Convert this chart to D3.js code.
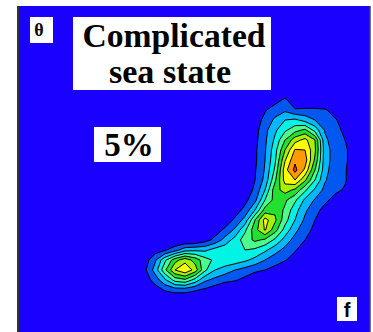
<!DOCTYPE html>
<html><head><meta charset="utf-8">
<script src="https://cdn.jsdelivr.net/npm/d3@7"></script>
<style>html,body{margin:0;padding:0;background:#fff;overflow:hidden}</style>
</head><body>
<svg id="c" width="373" height="332"></svg>
<script>
// Grid of spectral energy (level units), rows = direction (top to bottom), cols = frequency
const gridCols = 24, gridRows = 22;
const density = [
[0,0,0,0,0,0,0,0,0,0,0,0,0,0,0,0,0,0,0,0,0,0,0,0],
[0,0,0,0,0,0,0,0,0,0,0,0,0,0,0.6,1.2,0.3,0,0,0,0,0,0,0],
[0,0,0,0,0,0,0,0,0,0,0,0,0,0.9,1.5,1.8,1.1,1.2,1.2,1.1,0.6,0,0,0],
[0,0,0,0,0,0,0,0,0,0,0,0,0.5,1.3,2.2,3.0,3.2,2.6,2.0,1.5,1.1,0.6,0,0],
[0,0,0,0,0,0,0,0,0,0,0,0,0.6,1.7,2.8,3.8,4.6,5.2,3.6,1.9,1.3,0.8,0,0],
[0,0,0,0,0,0,0,0,0,0,0,0,0.7,1.8,3.2,5.0,6.6,7.3,6.0,2.2,1.5,1.0,0.3,0],
[0,0,0,0,0,0,0,0,0,0,0,0,0.8,1.9,3.6,6.0,8.1,8.0,6.2,2.4,1.6,1.2,0.4,0],
[0,0,0,0,0,0,0,0,0,0,0,0,0.8,2.0,3.8,6.9,8.8,8.5,5.8,2.4,1.6,1.2,0.4,0],
[0,0,0,0,0,0,0,0,0,0,0,0,0.9,2.1,4.2,7.6,9.3,7.8,5.0,2.3,1.5,1.1,0.3,0],
[0,0,0,0,0,0,0,0,0,0,0,0,1.0,2.3,4.8,7.4,8.0,6.2,4.0,2.1,1.4,1.1,0.3,0],
[0,0,0,0,0,0,0,0,0,0,0,0.4,1.2,3.0,5.6,6.4,5.8,4.2,2.8,1.7,1.2,0.9,0.2,0],
[0,0,0,0,0,0,0,0,0,0,0,0.7,1.7,4.0,5.4,5.2,4.2,2.8,1.9,1.2,0.7,0,0,0],
[0,0,0,0,0,0,0,0,0,0,0.5,1.3,3.0,5.4,5.8,4.8,3.4,2.2,1.3,0.7,0,0,0,0],
[0,0,0,0,0,0,0,0,0,0.4,1.2,2.4,5.0,7.4,6.2,4.4,3.0,1.8,1.0,0.4,0,0,0,0],
[0,0,0,0,0,0,0,0,0.5,1.2,2.2,3.8,5.6,7.1,5.4,3.6,2.3,1.3,0.8,0,0,0,0,0],
[0,0,0,0,0,0,0,0.6,1.3,2.4,3.4,4.5,5.2,4.8,3.8,2.6,1.6,1.0,0.4,0,0,0,0,0],
[0,0,0.5,0.9,1.6,2.6,2.8,2.8,3.4,3.6,3.8,4.0,3.8,3.2,2.4,1.7,1.1,0.4,0,0,0,0,0,0],
[0,0.5,1.8,3.8,5.6,6.6,5.6,4.4,3.8,3.8,3.6,3.2,2.7,2.0,1.4,1.1,0.5,0,0,0,0,0,0,0],
[0,0.8,2.4,4.8,7.0,7.9,6.6,4.2,3.0,2.5,2.0,1.6,1.2,1.0,0.7,0,0,0,0,0,0,0,0,0],
[0,0.5,1.4,2.8,4.4,4.8,3.6,2.2,1.7,1.3,1.1,0.7,0.3,0,0,0,0,0,0,0,0,0,0,0],
[0,0,0.5,1.1,1.4,1.4,1.1,0.8,0.4,0,0,0,0,0,0,0,0,0,0,0,0,0,0,0],
[0,0,0,0,0,0,0,0,0,0,0,0,0,0,0,0,0,0,0,0,0,0,0,0]
];
const thresholds = [1,2,3,4,5,6,7,8,9];
const bgColor = "#1a00ff";
const bandColors = ["#0058f0","#00b8ff","#00f4e4","#4cff8c","#22e030","#a8f000","#ffff00","#ff9a00","#ff2a00"];
const titleLines = ["Complicated","sea state"];
const percentLabel = "5%";
const yAxisLabel = "\u03b8";
const xAxisLabel = "f";

const svg = d3.select("#c");
const plot = {x0:19, y0:6, x1:370, y1:332};

// scales from grid units to pixels
const x = d3.scaleLinear().domain([0, gridCols]).range([130, 370]);
const y = d3.scaleLinear().domain([0, gridRows]).range([85, 305]);

svg.append("defs").append("clipPath").attr("id","clip")
  .append("rect").attr("x",plot.x0).attr("y",plot.y0)
  .attr("width",plot.x1-plot.x0).attr("height",plot.y1-plot.y0);

svg.append("rect").attr("x",plot.x0).attr("y",plot.y0)
  .attr("width",plot.x1-plot.x0).attr("height",plot.y1-plot.y0)
  .attr("fill",bgColor);

const contours = d3.contours().size([gridCols, gridRows]).thresholds(thresholds)(density.flat());
const path = d3.geoPath(d3.geoTransform({point(px,py){ this.stream.point(x(px), y(py)); }}));

svg.append("g").attr("clip-path","url(#clip)")
  .selectAll("path").data(contours).join("path")
  .attr("d", path)
  .attr("fill", (d,i) => bandColors[i])
  .attr("stroke", "#000").attr("stroke-width", 1).attr("stroke-linejoin","round");

// frame lines
svg.append("line").attr("x1",18).attr("x2",18).attr("y1",plot.y0).attr("y2",332)
  .attr("stroke","#333").attr("stroke-width",2);
svg.append("line").attr("x1",370).attr("x2",370).attr("y1",plot.y0).attr("y2",332)
  .attr("stroke","#444").attr("stroke-width",1.5);

// label boxes
function box(x0,y0,w,h){ svg.append("rect").attr("x",x0).attr("y",y0).attr("width",w).attr("height",h).attr("fill","#fff"); }
box(30,17,23,26);
svg.append("text").attr("x",39).attr("y",36).attr("text-anchor","middle")
  .attr("font-family","Liberation Serif, serif").attr("font-weight","bold").attr("font-size",18).attr("fill","#000").text(yAxisLabel);

box(73,17,198,73);
svg.append("text").attr("x",174).attr("y",47).attr("text-anchor","middle")
  .attr("font-family","Liberation Serif, serif").attr("font-weight","bold").attr("font-size",34)
  .attr("textLength",183).attr("lengthAdjust","spacingAndGlyphs").attr("fill","#000").text(titleLines[0]);
svg.append("text").attr("x",170).attr("y",83).attr("text-anchor","middle")
  .attr("font-family","Liberation Serif, serif").attr("font-weight","bold").attr("font-size",34)
  .attr("textLength",122).attr("lengthAdjust","spacingAndGlyphs").attr("fill","#000").text(titleLines[1]);

box(94,127,67,35);
svg.append("text").attr("x",129).attr("y",156).attr("text-anchor","middle")
  .attr("font-family","Liberation Serif, serif").attr("font-weight","bold").attr("font-size",33)
  .attr("fill","#000").text(percentLabel);

box(337,297,20,24);
svg.append("text").attr("x",347).attr("y",317).attr("text-anchor","middle")
  .attr("font-family","Liberation Sans, Arial, sans-serif").attr("font-weight","bold").attr("font-size",20)
  .attr("fill","#000").text(xAxisLabel);
</script>
</body></html>
